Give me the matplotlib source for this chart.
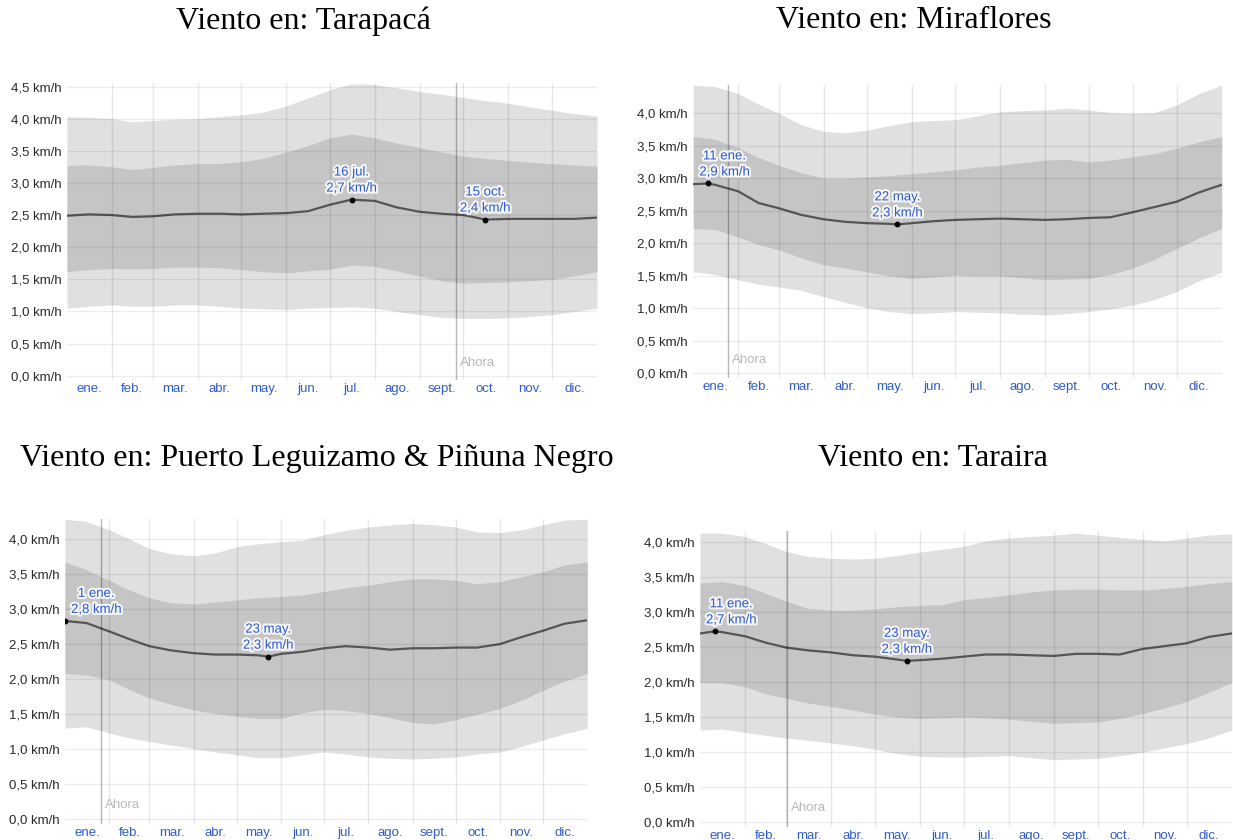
import numpy as np
import matplotlib.pyplot as plt
import matplotlib.patheffects as pe

W, H = 1233, 840

# day-of-year knots shared by every series
days = [0, 15, 31, 45, 59, 74, 90, 105, 120, 135, 151, 166, 181, 196, 212,
        227, 243, 258, 273, 288, 304, 319, 334, 349, 365]

month_names = ['ene.', 'feb.', 'mar.', 'abr.', 'may.', 'jun.',
               'jul.', 'ago.', 'sept.', 'oct.', 'nov.', 'dic.']
month_starts = [0, 31, 59, 90, 120, 151, 181, 212, 243, 273, 304, 334, 365]

# --- Tarapacá ---
tarapaca_p90 = [4.03, 4.02, 4.00, 3.95, 3.97, 3.99, 4.00, 4.03, 4.06, 4.10, 4.20, 4.32, 4.45,
                4.54, 4.53, 4.48, 4.42, 4.38, 4.33, 4.28, 4.24, 4.18, 4.13, 4.08, 4.04]
tarapaca_p75 = [3.27, 3.28, 3.25, 3.21, 3.24, 3.28, 3.30, 3.30, 3.33, 3.38, 3.48, 3.58, 3.70,
                3.76, 3.70, 3.62, 3.55, 3.48, 3.42, 3.38, 3.35, 3.32, 3.30, 3.28, 3.26]
tarapaca_p25 = [1.62, 1.65, 1.67, 1.66, 1.67, 1.69, 1.69, 1.68, 1.65, 1.62, 1.60, 1.63, 1.66,
                1.72, 1.70, 1.63, 1.55, 1.48, 1.44, 1.45, 1.46, 1.48, 1.50, 1.55, 1.62]
tarapaca_p10 = [1.05, 1.08, 1.10, 1.08, 1.08, 1.10, 1.10, 1.08, 1.05, 1.04, 1.03, 1.05, 1.06,
                1.07, 1.05, 1.00, 0.95, 0.91, 0.89, 0.89, 0.90, 0.92, 0.95, 1.00, 1.05]
tarapaca_mean = [2.49, 2.51, 2.50, 2.47, 2.48, 2.51, 2.52, 2.52, 2.51, 2.52, 2.53, 2.56, 2.66,
                 2.74, 2.72, 2.62, 2.55, 2.52, 2.50, 2.43, 2.44, 2.44, 2.44, 2.44, 2.46]
tarapaca_ann_days = [196, 288]
tarapaca_ann_vals = [2.74, 2.43]
tarapaca_ann_dates = ['16 jul.', '15 oct.']
tarapaca_now = 268

# --- Miraflores ---
miraflores_p90 = [4.43, 4.41, 4.30, 4.14, 4.00, 3.83, 3.72, 3.70, 3.74, 3.81, 3.87, 3.89, 3.90,
                  3.96, 4.02, 4.04, 4.05, 4.08, 4.05, 4.01, 4.00, 4.01, 4.13, 4.30, 4.43]
miraflores_p75 = [3.64, 3.60, 3.47, 3.32, 3.20, 3.09, 3.00, 3.00, 3.02, 3.04, 3.07, 3.10, 3.13,
                  3.17, 3.20, 3.24, 3.28, 3.29, 3.25, 3.28, 3.33, 3.38, 3.46, 3.56, 3.64]
miraflores_p25 = [2.23, 2.21, 2.10, 1.98, 1.90, 1.78, 1.67, 1.62, 1.56, 1.50, 1.46, 1.48, 1.51,
                  1.50, 1.50, 1.47, 1.44, 1.45, 1.46, 1.52, 1.62, 1.76, 1.92, 2.08, 2.23]
miraflores_p10 = [1.56, 1.52, 1.44, 1.37, 1.33, 1.28, 1.18, 1.09, 1.01, 0.95, 0.92, 0.93, 0.95,
                  0.94, 0.93, 0.91, 0.90, 0.92, 0.95, 0.99, 1.05, 1.14, 1.26, 1.42, 1.56]
miraflores_mean = [2.91, 2.90, 2.80, 2.62, 2.54, 2.44, 2.37, 2.33, 2.31, 2.30, 2.31, 2.34, 2.36,
                   2.37, 2.38, 2.37, 2.36, 2.37, 2.39, 2.40, 2.48, 2.56, 2.64, 2.78, 2.90]
miraflores_ann_days = [10, 141]
miraflores_ann_vals = [2.92, 2.29]
miraflores_ann_dates = ['11 ene.', '22 may.']
miraflores_now = 24

# --- Puerto Leguizamo & Piñuna Negro ---
leguizamo_p90 = [4.28, 4.25, 4.13, 4.00, 3.86, 3.79, 3.76, 3.80, 3.89, 3.93, 3.96, 3.98, 4.06,
                 4.12, 4.17, 4.20, 4.22, 4.20, 4.17, 4.10, 4.09, 4.13, 4.20, 4.27, 4.28]
leguizamo_p75 = [3.67, 3.56, 3.41, 3.27, 3.16, 3.09, 3.07, 3.10, 3.13, 3.16, 3.18, 3.20, 3.25,
                 3.30, 3.34, 3.39, 3.43, 3.43, 3.41, 3.36, 3.39, 3.46, 3.53, 3.63, 3.67]
leguizamo_p25 = [2.08, 2.06, 1.99, 1.85, 1.73, 1.64, 1.56, 1.51, 1.47, 1.44, 1.44, 1.52, 1.57,
                 1.55, 1.51, 1.45, 1.38, 1.36, 1.42, 1.50, 1.58, 1.70, 1.84, 1.97, 2.08]
leguizamo_p10 = [1.30, 1.32, 1.23, 1.16, 1.11, 1.06, 1.01, 0.96, 0.92, 0.88, 0.88, 0.92, 0.96,
                 0.93, 0.89, 0.87, 0.86, 0.87, 0.89, 0.93, 0.96, 1.04, 1.13, 1.22, 1.30]
leguizamo_mean = [2.83, 2.80, 2.68, 2.57, 2.47, 2.41, 2.37, 2.35, 2.35, 2.34, 2.36, 2.39, 2.44,
                  2.47, 2.45, 2.42, 2.44, 2.44, 2.45, 2.45, 2.50, 2.60, 2.69, 2.79, 2.84]
leguizamo_ann_days = [0, 142]
leguizamo_ann_vals = [2.83, 2.32]
leguizamo_ann_dates = ['1 ene.', '23 may.']
leguizamo_now = 25

# --- Taraira ---
taraira_p90 = [4.12, 4.12, 4.07, 3.97, 3.86, 3.79, 3.76, 3.75, 3.76, 3.80, 3.85, 3.89, 3.93,
               4.01, 4.05, 4.07, 4.09, 4.12, 4.09, 4.06, 4.03, 4.01, 4.05, 4.09, 4.11]
taraira_p75 = [3.41, 3.43, 3.37, 3.26, 3.15, 3.05, 3.02, 3.02, 3.04, 3.07, 3.09, 3.10, 3.17,
               3.20, 3.24, 3.28, 3.31, 3.32, 3.32, 3.31, 3.31, 3.33, 3.36, 3.40, 3.43]
taraira_p25 = [1.99, 1.99, 1.93, 1.83, 1.77, 1.70, 1.65, 1.60, 1.54, 1.50, 1.48, 1.49, 1.50,
               1.49, 1.47, 1.44, 1.41, 1.42, 1.43, 1.48, 1.55, 1.63, 1.72, 1.85, 1.99]
taraira_p10 = [1.31, 1.33, 1.28, 1.24, 1.20, 1.17, 1.13, 1.09, 1.04, 0.98, 0.94, 0.93, 0.93,
               0.94, 0.95, 0.92, 0.89, 0.90, 0.91, 0.95, 1.00, 1.06, 1.12, 1.20, 1.31]
taraira_mean = [2.69, 2.71, 2.65, 2.56, 2.49, 2.45, 2.42, 2.38, 2.36, 2.32, 2.31, 2.33, 2.36,
                2.39, 2.39, 2.38, 2.37, 2.40, 2.40, 2.39, 2.47, 2.51, 2.55, 2.64, 2.69]
taraira_ann_days = [10, 142]
taraira_ann_vals = [2.72, 2.30]
taraira_ann_dates = ['11 ene.', '23 may.']
taraira_now = 60

LIGHT = '#e0e0e0'
DARK = '#c5c5c5'
LINE = '#555555'
BLUE = '#2f5ccc'
TICK = '#2a2a2a'


def kmh(v):
    return f"{v:.1f}".replace('.', ',') + ' km/h'


def draw_panel(fig, box, ytop, ymax_tick, title, title_xy, p10, p25, mean, p75, p90,
               ann_days, ann_vals, ann_dates, now):
    x0, yt, x1, yb = box
    ax = fig.add_axes([x0 / W, 1 - yb / H, (x1 - x0) / W, (yb - yt) / H])
    ax.set_xlim(0, 365)
    ax.set_ylim(-0.07, ytop)
    for s in ax.spines.values():
        s.set_visible(False)

    ax.fill_between(days, p10, p90, color=LIGHT, lw=0, zorder=1)
    ax.fill_between(days, p25, p75, color=DARK, lw=0, zorder=2)

    # mean line passes through the labelled points
    pts = sorted(zip(days + ann_days, mean + ann_vals))
    ax.plot([p[0] for p in pts], [p[1] for p in pts], color=LINE, lw=1.6, zorder=3)

    yticks = np.arange(0, ymax_tick + 0.01, 0.5)
    for y in yticks:
        ax.axhline(y, color='black', alpha=0.07, lw=1, zorder=5)
    for d in month_starts[1:-1]:
        ax.axvline(d, color='black', alpha=0.09, lw=1, zorder=5)

    ax.set_yticks(yticks, [kmh(y) for y in yticks])
    mids = [(a + b) / 2 for a, b in zip(month_starts[:-1], month_starts[1:])]
    ax.set_xticks(mids, month_names)
    ax.tick_params(axis='both', length=0, labelsize=9.5)
    ax.tick_params(axis='y', pad=4, labelcolor=TICK)
    ax.tick_params(axis='x', pad=2, labelcolor=BLUE)

    # "Ahora" marker
    ax.axvline(now, color='black', alpha=0.28, lw=1, zorder=6)
    ax.annotate('Ahora', xy=(now, 0.2), xytext=(4, 0), textcoords='offset pixels',
                ha='left', va='center', fontsize=9.5, color='#b8b8b8', zorder=7)

    halo = [pe.withStroke(linewidth=3, foreground='white', alpha=0.85)]
    for d, v, lab in zip(ann_days, ann_vals, ann_dates):
        ax.plot(d, v, 'o', ms=3.2, color='black', zorder=8)
        text = f"{lab}\n{kmh(v)}"
        if d < 20:
            ax.annotate(text, xy=(0, v), xytext=(6, 5), textcoords='offset pixels',
                        ha='left', va='bottom', multialignment='center', fontsize=9.5,
                        color=BLUE, path_effects=halo, zorder=9, linespacing=1.45)
        else:
            ax.annotate(text, xy=(d, v), xytext=(0, 5), textcoords='offset pixels',
                        ha='center', va='bottom', multialignment='center', fontsize=9.5,
                        color=BLUE, path_effects=halo, zorder=9, linespacing=1.45)

    fig.text(title_xy[0] / W, 1 - title_xy[1] / H, title, ha='center', va='center',
             fontsize=23, family='Liberation Serif', color='black')
    return ax


plt.rcParams['font.family'] = ['Liberation Sans', 'DejaVu Sans']
fig = plt.figure(figsize=(W / 100, H / 100), dpi=100)

draw_panel(fig, (67, 83.3, 597, 380.2), 4.55, 4.5, 'Viento en: Tarapacá', (303, 21),
           tarapaca_p10, tarapaca_p25, tarapaca_mean, tarapaca_p75, tarapaca_p90,
           tarapaca_ann_days, tarapaca_ann_vals, tarapaca_ann_dates, tarapaca_now)
draw_panel(fig, (693.3, 85.3, 1221.7, 377.9), 4.43, 4.0, 'Viento en: Miraflores', (914, 21),
           miraflores_p10, miraflores_p25, miraflores_mean, miraflores_p75, miraflores_p90,
           miraflores_ann_days, miraflores_ann_vals, miraflores_ann_dates, miraflores_now)
draw_panel(fig, (65, 518.6, 587.3, 824.2), 4.29, 4.0,
           'Viento en: Puerto Leguizamo & Piñuna Negro', (317, 459),
           leguizamo_p10, leguizamo_p25, leguizamo_mean, leguizamo_p75, leguizamo_p90,
           leguizamo_ann_days, leguizamo_ann_vals, leguizamo_ann_dates, leguizamo_now)
draw_panel(fig, (700, 531, 1231.7, 827.2), 4.15, 4.0, 'Viento en: Taraira', (933, 459),
           taraira_p10, taraira_p25, taraira_mean, taraira_p75, taraira_p90,
           taraira_ann_days, taraira_ann_vals, taraira_ann_dates, taraira_now)

fig.savefig('out.png', dpi=100, facecolor='white')
